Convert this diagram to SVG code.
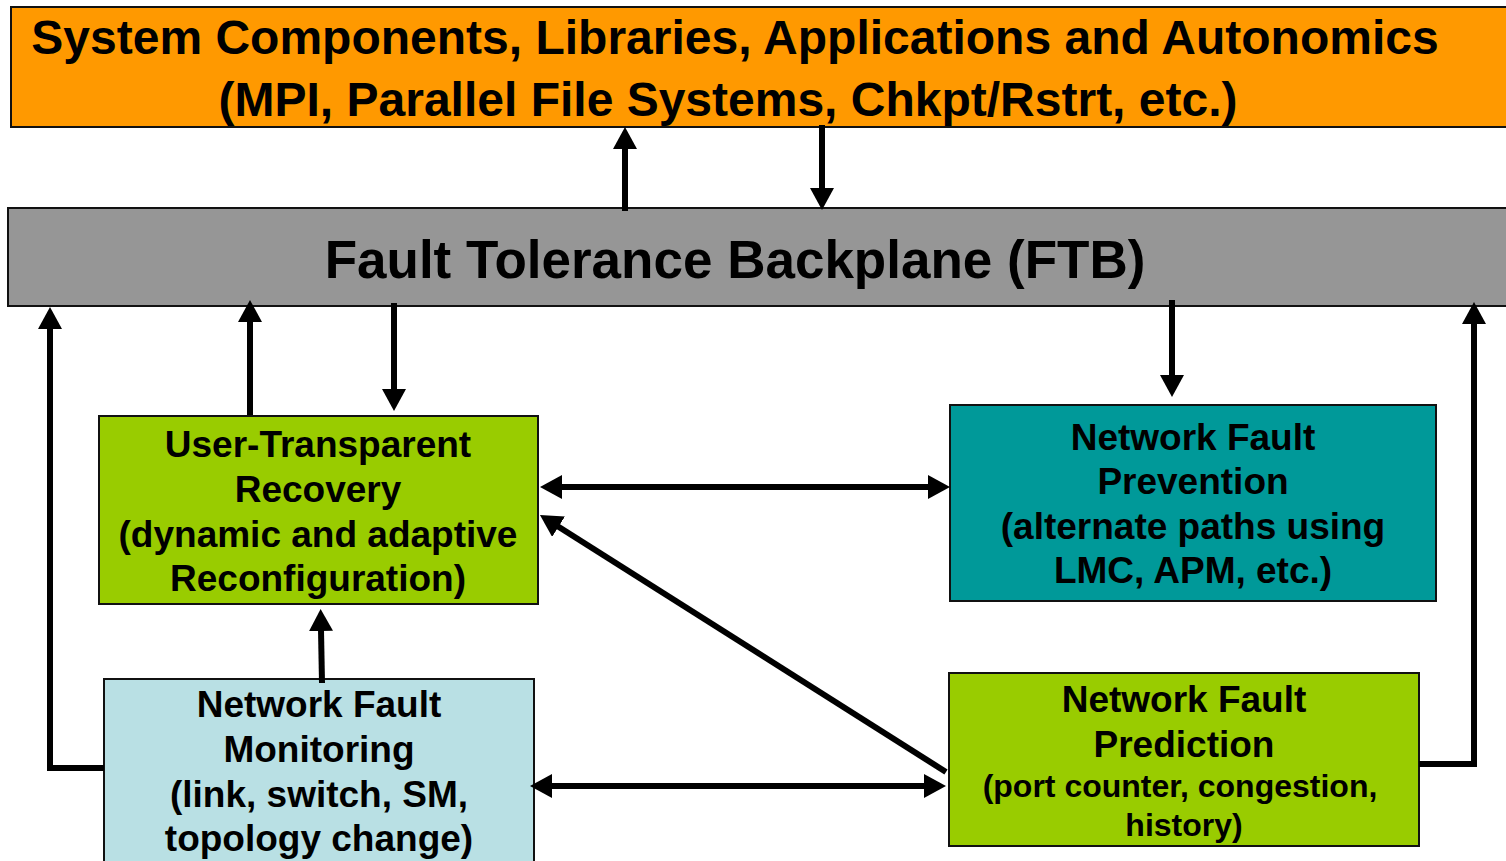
<svg xmlns="http://www.w3.org/2000/svg" width="1506" height="861" viewBox="0 0 1506 861">
<style>
.box{stroke:#111;stroke-width:2}
text{font-family:"Liberation Sans",Arial,sans-serif;font-weight:bold;fill:#000;text-anchor:middle}
.t1{font-size:48px}
.t2{font-size:53px}
.t3{font-size:37px}
.t4{font-size:32px}
.con{stroke:#000;stroke-width:6;fill:none}
</style>
<defs>
<marker id="ah" markerUnits="userSpaceOnUse" viewBox="0 0 22 24" markerWidth="22" markerHeight="24" refX="1" refY="12" orient="auto-start-reverse">
<path d="M0,0 L22,12 L0,24 z" fill="#000"/>
</marker>
</defs>
<rect width="1506" height="861" fill="#fff"/>
<g id="sys">
<rect class="box" x="11" y="7" width="1500" height="120" fill="#FF9900"/>
<text class="t1" x="735" y="54">System Components, Libraries, Applications and Autonomics</text>
<text class="t1" x="728" y="116">(MPI, Parallel File Systems, Chkpt/Rstrt, etc.)</text>
</g>
<g id="ftb">
<rect class="box" x="8" y="208" width="1504" height="98" fill="#969696"/>
<text class="t2" x="735" y="278">Fault Tolerance Backplane (FTB)</text>
</g>
<g id="utr">
<rect class="box" x="99" y="416" width="439" height="188" fill="#99CC00"/>
<text class="t3" x="318" y="457">User-Transparent</text>
<text class="t3" x="318" y="502">Recovery</text>
<text class="t3" x="318" y="547">(dynamic and adaptive</text>
<text class="t3" x="318" y="591">Reconfiguration)</text>
</g>
<g id="nfp">
<rect class="box" x="950" y="405" width="486" height="196" fill="#009999"/>
<text class="t3" x="1193" y="450">Network Fault</text>
<text class="t3" x="1193" y="494">Prevention</text>
<text class="t3" x="1193" y="539">(alternate paths using</text>
<text class="t3" x="1193" y="583">LMC, APM, etc.)</text>
</g>
<g id="nfm">
<rect class="box" x="104" y="679" width="430" height="200" fill="#B9E0E4"/>
<text class="t3" x="319" y="717">Network Fault</text>
<text class="t3" x="319" y="762">Monitoring</text>
<text class="t3" x="319" y="807">(link, switch, SM,</text>
<text class="t3" x="319" y="851">topology change)</text>
</g>
<g id="nfpred">
<rect class="box" x="949" y="673" width="470" height="173" fill="#99CC00"/>
<text class="t3" x="1184" y="712">Network Fault</text>
<text class="t3" x="1184" y="757">Prediction</text>
<text class="t4" x="1180" y="797">(port counter, congestion,</text>
<text class="t4" x="1184" y="836">history)</text>
</g>
<g id="connectors">
<line class="con" x1="625" y1="211" x2="625" y2="148" marker-end="url(#ah)"/>
<line class="con" x1="822" y1="125" x2="822" y2="189" marker-end="url(#ah)"/>
<line class="con" x1="250" y1="415" x2="250" y2="321" marker-end="url(#ah)"/>
<line class="con" x1="394" y1="303" x2="394" y2="390" marker-end="url(#ah)"/>
<line class="con" x1="1172" y1="300" x2="1172" y2="376" marker-end="url(#ah)"/>
<polyline class="con" points="104,768 50,768 50,328" marker-end="url(#ah)"/>
<polyline class="con" points="1419,764 1474,764 1474,323" marker-end="url(#ah)"/>
<line class="con" x1="561" y1="487" x2="929" y2="487" marker-start="url(#ah)" marker-end="url(#ah)"/>
<line class="con" x1="551" y1="786" x2="925" y2="786" marker-start="url(#ah)" marker-end="url(#ah)"/>
<line class="con" x1="946" y1="772" x2="557.7" y2="526.2" marker-end="url(#ah)"/>
<line class="con" x1="322" y1="683" x2="321" y2="630" marker-end="url(#ah)"/>
</g>
</svg>
